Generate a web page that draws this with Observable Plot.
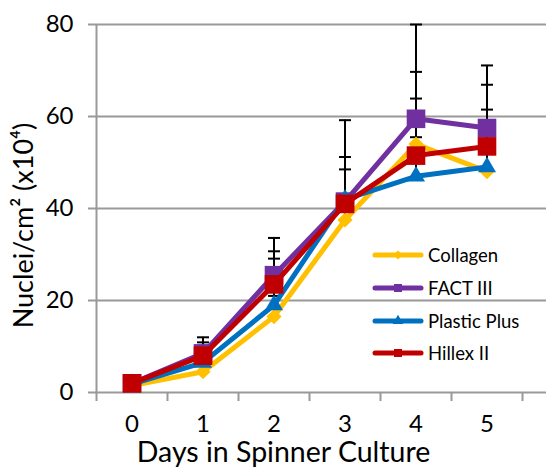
<!DOCTYPE html>
<html>
<head>
<meta charset="utf-8">
<script src="https://cdn.jsdelivr.net/npm/d3@7"></script>
<script src="https://cdn.jsdelivr.net/npm/@observablehq/plot@0.6"></script>
<style>
  html, body { margin: 0; padding: 0; background: #fff; }
  #wrap { position: relative; width: 546px; height: 467px; font-family: Lato, "Open Sans", sans-serif; }
  #legend { position: absolute; left: 372px; top: 239px; }
  .item { display: flex; align-items: center; height: 32.7px; font-size: 18.5px; color: #000; }
  .item svg { margin-right: 4px; }
</style>
</head>
<body>
<div id="wrap"><div id="chart"></div><div id="legend"></div></div>
<script>
// ---- data ----
const days = [0, 1, 2, 3, 4, 5];
const seriesNames = ["Collagen", "FACT III", "Plastic Plus", "Hillex II"];
const seriesColors = ["#FFC000", "#7030A0", "#0070C0", "#C00000"];
const seriesSymbols = ["diamond2", "square", "triangle", "square"];
const collagen = [1.5, 4.5, 16.5, 37.5, 54, 48];
const factIII = [2, 8.5, 25.5, 41.5, 59.5, 57.5];
const plasticPlus = [1.8, 6.5, 19, 42, 47, 49];
const hillexII = [2, 8, 23.5, 41, 51.5, 53.5];
// upper ends of error bars (null = not visible)
const collagenUpper = [null, null, 29.1, 48.5, 69.7, 61.5];
const factIIIUpper = [null, 12, 33.6, 59.2, 80, 71.1];
const plasticPlusUpper = [null, null, 21, null, 55.5, null];
const hillexIIUpper = [null, 10.9, 30.7, 51.2, 63.9, 66.9];
const yTicks = [0, 20, 40, 60, 80];
const xBoundaries = [-0.5, 0.5, 1.5, 2.5, 3.5, 4.5, 5.5];
const xTitle = "Days in Spinner Culture";
const yTitle = "Nuclei/cm\u00B2 (x10\u2074)";

const values = [collagen, factIII, plasticPlus, hillexII];
const uppers = [collagenUpper, factIIIUpper, plasticPlusUpper, hillexIIUpper];

const rows = [];
seriesNames.forEach((s, i) => days.forEach((d, j) => rows.push({series: s, day: d, value: values[i][j], upper: uppers[i][j]})));
const errRows = rows.filter(r => r.upper != null);

const capSymbol = { draw(ctx, size) { const w = Math.sqrt(size) / 2; ctx.moveTo(-w, 0); ctx.lineTo(w, 0); } };
const markerR = {"diamond2": 6.8, "square": 10.5, "triangle": 6.7};

const marks = [
  Plot.ruleY(yTicks, {stroke: "#999", strokeWidth: 2}),
  Plot.ruleX([-0.5], {y1: 0, y2: 80, stroke: "#999", strokeWidth: 2}),
  Plot.axisY(yTicks, {tickSize: 8, stroke: "#999", strokeWidth: 2, tickPadding: 15, fontSize: 24, label: null}),
  Plot.axisX(xBoundaries, {tickSize: 9, stroke: "#999", strokeWidth: 2, tickFormat: () => "", label: null}),
  Plot.axisX(days, {tickSize: 0, tickPadding: 22, fontSize: 24, label: null}),
  Plot.ruleX(errRows, {x: "day", y1: "value", y2: "upper", stroke: "#000", strokeWidth: 2}),
  Plot.dot(errRows, {x: "day", y: "upper", symbol: capSymbol, r: 6.8, stroke: "#000", strokeWidth: 2, fill: "none"}),
];
seriesNames.forEach((s, i) => {
  const data = rows.filter(r => r.series === s);
  marks.push(Plot.line(data, {x: "day", y: "value", stroke: seriesColors[i], strokeWidth: 5, strokeLinejoin: "round", strokeLinecap: "round"}));
  marks.push(Plot.dot(data, {x: "day", y: "value", symbol: seriesSymbols[i], r: markerR[seriesSymbols[i]], fill: seriesColors[i], stroke: "none"}));
});
marks.push(Plot.text([xTitle], {frameAnchor: "bottom", lineAnchor: "middle", textAnchor: "middle", dx: -38, dy: 60, fontSize: 28.5, fill: "#000"}));
marks.push(Plot.text([yTitle], {frameAnchor: "left", lineAnchor: "middle", textAnchor: "middle", rotate: -90, dx: -72, dy: 17, fontSize: 27, fill: "#000"}));

const chart = Plot.plot({
  width: 546, height: 467,
  marginLeft: 96, marginRight: 0, marginTop: 24, marginBottom: 75,
  style: {fontFamily: "Lato, 'Open Sans', sans-serif", color: "#000", background: "#fff", overflow: "visible"},
  x: {type: "linear", domain: [-0.5, 5.838]},
  y: {domain: [0, 80]},
  marks
});
document.getElementById("chart").append(chart);

// legend
const legend = document.getElementById("legend");
seriesNames.forEach((s, i) => {
  const item = document.createElement("div");
  item.className = "item";
  const sym = d3.symbol(seriesSymbols[i] === "diamond2" ? d3.symbolDiamond2 : seriesSymbols[i] === "triangle" ? d3.symbolTriangle : d3.symbolSquare, seriesSymbols[i] === "square" ? 64 : 50)();
  item.innerHTML = `<svg width="52" height="14"><line x1="3" x2="49" y1="7" y2="7" stroke="${seriesColors[i]}" stroke-width="5" stroke-linecap="round"/><path d="${sym}" transform="translate(26,7)" fill="${seriesColors[i]}"/></svg><span>${s}</span>`;
  legend.append(item);
});
</script>
</body>
</html>
